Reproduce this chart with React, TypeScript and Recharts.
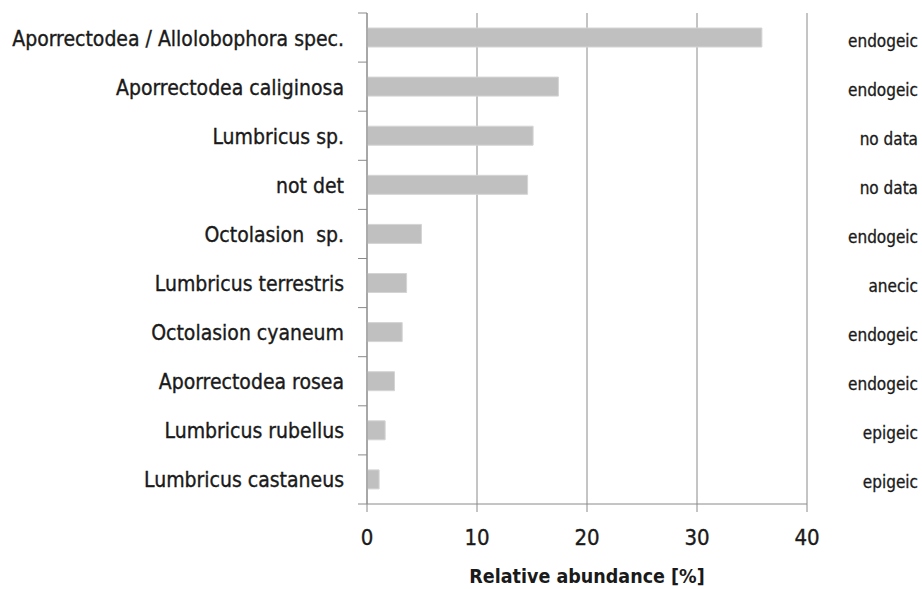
import React from "react";
import { BarChart, Bar, XAxis, YAxis, CartesianGrid } from "recharts";

const species = [
  "Aporrectodea / Allolobophora spec.",
  "Aporrectodea caliginosa",
  "Lumbricus sp.",
  "not det",
  "Octolasion  sp.",
  "Lumbricus terrestris",
  "Octolasion cyaneum",
  "Aporrectodea rosea",
  "Lumbricus rubellus",
  "Lumbricus castaneus",
];
const abundance = [35.9, 17.4, 15.1, 14.6, 4.95, 3.6, 3.2, 2.5, 1.65, 1.1];
const ecology = [
  "endogeic",
  "endogeic",
  "no data",
  "no data",
  "endogeic",
  "anecic",
  "endogeic",
  "endogeic",
  "epigeic",
  "epigeic",
];
const xTicks = [0, 10, 20, 30, 40];
const xLabel = "Relative abundance [%]";

const data = species.map((s, i) => ({ species: s, value: abundance[i], eco: ecology[i] }));

const W = 922;
const H = 589;
const TOP = 13;
const LEFT_W = 367;
const RIGHT_W = 115;
const XAXIS_H = 85;
const PLOT_H = H - TOP - XAXIS_H;
const BAND = PLOT_H / species.length;
const GREY = "#8a8a8a";
const TEXT = "#1a1a1a";
const FONT = "'DejaVu Sans Condensed', 'DejaVu Sans', sans-serif";

const LeftTick = (props: any) => {
  const { y, payload, index } = props;
  const half = BAND / 2;
  return (
    <g>
      <line x1={LEFT_W - 9} x2={LEFT_W} y1={y - half} y2={y - half} stroke={GREY} strokeWidth={1} />
      {index === species.length - 1 && (
        <line x1={LEFT_W - 9} x2={LEFT_W} y1={y + half} y2={y + half} stroke={GREY} strokeWidth={1} />
      )}
      <text
        x={LEFT_W - 23}
        y={y}
        dy={8}
        textAnchor="end"
        fill={TEXT}
        stroke={TEXT}
        strokeWidth={0.35}
        fontSize={21}
        fontFamily={FONT}
        style={{ whiteSpace: "pre" }}
      >
        {payload.value}
      </text>
    </g>
  );
};

const RightTick = (props: any) => {
  const { y, index } = props;
  return (
    <text
      x={918}
      y={y}
      dy={9}
      textAnchor="end"
      fill={TEXT}
      stroke={TEXT}
      strokeWidth={0.3}
      fontSize={17}
      fontFamily={FONT}
    >
      {ecology[index]}
    </text>
  );
};

export default function App() {
  return (
    <div style={{ position: "absolute", left: 0, top: 0, background: "#fff" }}>
      <BarChart
        width={W}
        height={H}
        data={data}
        layout="vertical"
        margin={{ top: TOP, right: 0, bottom: 0, left: 0 }}
        barSize={19}
      >
        <CartesianGrid horizontal={false} vertical={true} stroke={GREY} strokeWidth={1} />
        <XAxis
          type="number"
          domain={[0, 40]}
          ticks={xTicks}
          height={XAXIS_H}
          axisLine={{ stroke: GREY, strokeWidth: 1 }}
          tickLine={{ stroke: GREY, strokeWidth: 1 }}
          tickSize={8}
          tickMargin={17}
          tick={{
            fill: TEXT,
            stroke: TEXT,
            strokeWidth: 0.35,
            fontSize: 22,
            fontFamily: "'Liberation Sans Narrow', 'DejaVu Sans Condensed', sans-serif",
          }}
          label={{
            value: xLabel,
            position: "insideBottom",
            offset: 6,
            fill: TEXT,
            fontSize: 19.5,
            fontWeight: "bold",
            fontFamily: FONT,
          }}
        />
        <YAxis
          yAxisId="left"
          type="category"
          dataKey="species"
          width={LEFT_W}
          axisLine={{ stroke: GREY, strokeWidth: 1 }}
          tickLine={false}
          tick={<LeftTick />}
          interval={0}
        />
        <YAxis
          yAxisId="right"
          orientation="right"
          type="category"
          dataKey="species"
          width={RIGHT_W}
          axisLine={false}
          tickLine={false}
          tick={<RightTick />}
          interval={0}
        />
        <Bar yAxisId="left" dataKey="value" fill="#c0c0c0" stroke="#d4d4d4" strokeWidth={1} isAnimationActive={false} />
      </BarChart>
    </div>
  );
}
